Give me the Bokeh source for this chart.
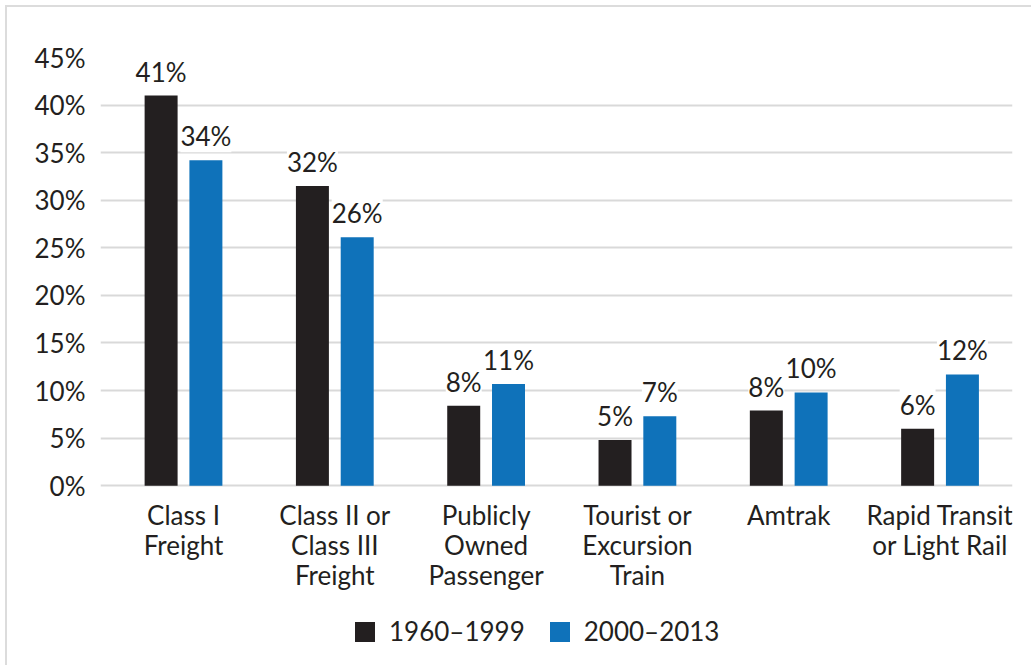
from bokeh.plotting import figure
from bokeh.models import ColumnDataSource, LabelSet, Legend, LegendItem, FixedTicker, PrintfTickFormatter, Range1d
from bokeh.core.properties import value
from bokeh.embed import file_html
from bokeh.resources import INLINE

categories = ["Class I\nFreight", "Class II or\nClass III\nFreight", "Publicly\nOwned\nPassenger",
              "Tourist or\nExcursion\nTrain", "Amtrak", "Rapid Transit\nor Light Rail"]
series_names = ["1960\u20131999", "2000\u20132013"]
vals_a = [41.0, 31.5, 8.4, 4.8, 7.9, 6.0]
vals_b = [34.2, 26.1, 10.7, 7.3, 9.8, 11.7]
labels_a = ["41%", "32%", "8%", "5%", "8%", "6%"]
labels_b = ["34%", "26%", "11%", "7%", "10%", "12%"]
y_ticks = [0, 5, 10, 15, 20, 25, 30, 35, 40, 45]

FONT = "Lato"
FS = "26px"
TXT = "#231f20"
BLACK = "#231f20"
BLUE = "#0f72ba"
GRID = "#d9d9d9"
LINE_H = 30

centers = [i + 0.5 for i in range(len(categories))]
off = 0.148
bw = 0.218

src_a = ColumnDataSource(dict(x=[c - off for c in centers], top=vals_a, lab=labels_a))
src_b = ColumnDataSource(dict(x=[c + off for c in centers], top=vals_b, lab=labels_b))

# one entry per line of each category label, so that each line is centred
cx, cy, ct, co = [], [], [], []
for c, cat in zip(centers, categories):
    for j, line in enumerate(cat.split("\n")):
        cx.append(c)
        cy.append(0)
        ct.append(line)
        co.append(-13 - LINE_H * j)
src_c = ColumnDataSource(dict(x=cx, y=cy, lab=ct, yo=co))

p = figure(width=1026, height=660, output_backend="svg", toolbar_location=None,
           x_range=Range1d(-0.0486, 5.979), y_range=Range1d(-19.1, 45),
           min_border_left=93, min_border_right=21, min_border_top=50, min_border_bottom=0)
p.styles = {"border-top": "2px solid #dcdcdc", "border-left": "2px solid #dcdcdc",
            "margin-left": "5px", "margin-top": "5px"}
p.outline_line_color = None
p.background_fill_color = "white"
p.xaxis.visible = False

r_a = p.vbar(x="x", top="top", width=bw, source=src_a, fill_color=BLACK, line_color=None)
r_b = p.vbar(x="x", top="top", width=bw, source=src_b, fill_color=BLUE, line_color=None)

for s in (src_a, src_b):
    lab = LabelSet(x="x", y="top", text="lab", source=s, y_offset=8, text_align="center",
                   text_baseline="bottom", text_font=value(FONT), text_font_size=FS, text_color=TXT,
                   background_fill_color="white", border_line_color=None)
    p.add_layout(lab)

cat_lab = LabelSet(x="x", y="y", text="lab", source=src_c, y_offset="yo", text_align="center",
                   text_baseline="top", text_font=value(FONT), text_font_size=FS, text_color=TXT)
p.add_layout(cat_lab)

# y axis
p.yaxis.ticker = FixedTicker(ticks=y_ticks)
p.yaxis.formatter = PrintfTickFormatter(format="%d%%")
p.yaxis.axis_line_color = None
p.yaxis.major_tick_line_color = None
p.yaxis.minor_tick_line_color = None
p.yaxis.major_label_text_font = FONT
p.yaxis.major_label_text_font_size = FS
p.yaxis.major_label_text_color = TXT
p.yaxis.major_label_standoff = 9

p.xgrid.grid_line_color = None
p.ygrid.grid_line_color = GRID
p.ygrid.grid_line_width = 2
p.ygrid.ticker = FixedTicker(ticks=y_ticks)

legend = Legend(items=[LegendItem(label=series_names[0], renderers=[r_a]),
                       LegendItem(label=series_names[1], renderers=[r_b])],
                orientation="horizontal", location=(252, 20),
                glyph_width=25, glyph_height=25, label_text_font=FONT,
                label_text_font_size=FS, label_text_color=TXT, label_standoff=12,
                spacing=22, border_line_color=None, background_fill_alpha=0,
                margin=0, padding=0)
p.add_layout(legend, "center")

open("out.html", "w").write(file_html(p, INLINE))
